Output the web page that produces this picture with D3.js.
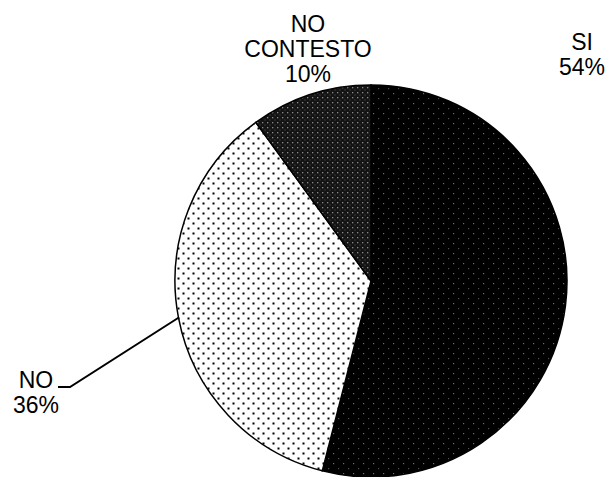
<!DOCTYPE html>
<html>
<head>
<meta charset="utf-8">
<script src="https://cdn.jsdelivr.net/npm/d3@7"></script>
<style>
  html, body { margin: 0; padding: 0; background: #fff; }
  svg { display: block; }
  text { font-family: "Liberation Sans", Arial, sans-serif; font-size: 23px; fill: #000; }
</style>
</head>
<body>
<svg id="chart" width="610" height="477"></svg>
<script>
const categories = ["SI", "NO", "NO CONTESTO"];
const values = [54, 36, 10];
const labelLines = [["SI", "54%"], ["NO", "36%"], ["NO", "CONTESTO", "10%"]];

const svg = d3.select("#chart");
const cx = 371, cy = 281, r = 196;

const defs = svg.append("defs");
// SI: black with sparse light dots
const pSi = defs.append("pattern").attr("id", "pSi").attr("patternUnits", "userSpaceOnUse")
  .attr("width", 10).attr("height", 10);
pSi.append("rect").attr("width", 10).attr("height", 10).attr("fill", "#000");
pSi.append("rect").attr("x", 2).attr("y", 2).attr("width", 1.2).attr("height", 1.2).attr("fill", "#6e6e6e");
pSi.append("rect").attr("x", 7).attr("y", 7).attr("width", 1.2).attr("height", 1.2).attr("fill", "#505050");
// NO: white with black dots
const pNo = defs.append("pattern").attr("id", "pNo").attr("patternUnits", "userSpaceOnUse")
  .attr("width", 10).attr("height", 10);
pNo.append("rect").attr("width", 10).attr("height", 10).attr("fill", "#fff");
pNo.append("rect").attr("x", 1.5).attr("y", 1.5).attr("width", 2).attr("height", 2).attr("fill", "#000");
pNo.append("rect").attr("x", 6.5).attr("y", 6.5).attr("width", 2).attr("height", 2).attr("fill", "#000");
// NO CONTESTO: dark with dense gray dots
const pNc = defs.append("pattern").attr("id", "pNc").attr("patternUnits", "userSpaceOnUse")
  .attr("width", 5).attr("height", 5);
pNc.append("rect").attr("width", 5).attr("height", 5).attr("fill", "#141414");
pNc.append("rect").attr("x", 1).attr("y", 1).attr("width", 1.3).attr("height", 1.3).attr("fill", "#8c8c8c");
pNc.append("rect").attr("x", 3.5).attr("y", 3.5).attr("width", 1).attr("height", 1).attr("fill", "#555");

const fills = ["url(#pSi)", "url(#pNo)", "url(#pNc)"];

const pie = d3.pie().sort(null).value(d => d.v);
const arcs = pie(categories.map((c, i) => ({ c, v: values[i] })));
const arc = d3.arc().innerRadius(0).outerRadius(r);

const g = svg.append("g").attr("transform", `translate(${cx},${cy})`);
g.selectAll("path.slice").data(arcs).enter().append("path")
  .attr("class", "slice")
  .attr("d", arc)
  .attr("fill", (d, i) => fills[i])
  .attr("stroke", "#000")
  .attr("stroke-width", 1.5);

// Labels
const lineH = 25;
const labelPos = [
  { x: 582, y: 50 },
  { x: 36, y: 388 },
  { x: 308, y: 32 }
];
labelLines.forEach((lines, i) => {
  const t = svg.append("text").attr("text-anchor", "middle");
  lines.forEach((ln, j) => {
    t.append("tspan").attr("x", labelPos[i].x).attr("y", labelPos[i].y + j * lineH).text(ln);
  });
});

// Leader line for NO
const ang = Math.atan2(318 - cy, 177 - cx);
const ex = cx + r * Math.cos(ang), ey = cy + r * Math.sin(ang);
svg.append("path")
  .attr("d", d3.line()([[58, 387], [70, 387], [ex, ey]]))
  .attr("fill", "none").attr("stroke", "#000").attr("stroke-width", 2);
</script>
</body>
</html>
